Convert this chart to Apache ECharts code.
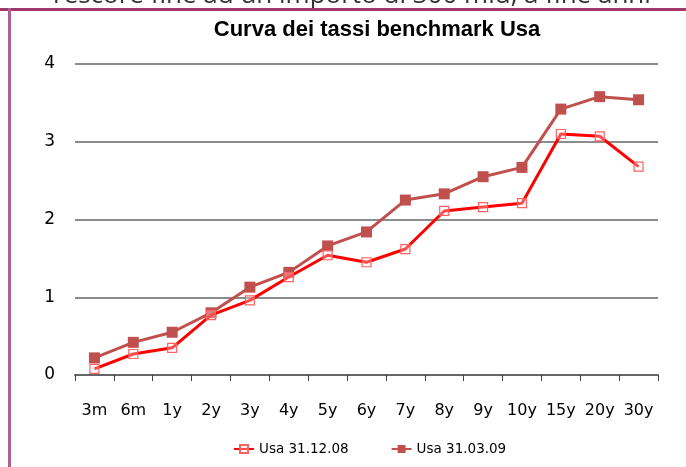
<!DOCTYPE html>
<html><head><meta charset="utf-8">
<script src="https://cdn.jsdelivr.net/npm/echarts@6/dist/echarts.min.js"></script>
<style>html,body{margin:0;padding:0;background:#fff}#c{width:686px;height:467px}</style>
</head><body><div id="c"></div>
<script>
var categories = ['3m','6m','1y','2y','3y','4y','5y','6y','7y','8y','9y','10y','15y','20y','30y'];
var usaDic08 = [0.08,0.27,0.35,0.77,0.96,1.26,1.54,1.45,1.62,2.11,2.16,2.21,3.10,3.07,2.68];
var usaMar09 = [0.22,0.42,0.55,0.80,1.13,1.32,1.66,1.84,2.25,2.33,2.55,2.67,3.42,3.58,3.54];
var seriesNames = ['Usa 31.12.08','Usa 31.03.09'];
var titleText = 'Curva dei tassi benchmark Usa';
var topText = 'rescore fine ad un importo di 300 mld, a fine anni';

var chart = echarts.init(document.getElementById('c'));
var font = 'DejaVu Sans';
chart.setOption({
  animation:false,
  title:{text:titleText,left:372,textAlign:'center',top:14,
    textStyle:{fontFamily:'"Liberation Sans Narrow", "Liberation Sans"',fontSize:22,fontWeight:'bold',color:'#000'}},
  grid:{left:75,right:28,top:64,bottom:92},
  legend:{bottom:6,left:228,itemGap:42,itemWidth:20,itemHeight:10,
    textStyle:{fontFamily:font,fontSize:13.5,color:'#000'},
    data:seriesNames},
  xAxis:{type:'category',data:categories,boundaryGap:true,
    axisLine:{lineStyle:{color:'#666',width:2}},
    axisTick:{show:true,length:6,lineStyle:{color:'#444',width:1}},
    axisLabel:{fontFamily:font,fontSize:16,color:'#000',margin:28,interval:0}},
  yAxis:{type:'value',min:0,max:4,interval:1,
    axisLine:{show:false},axisTick:{show:false},
    axisLabel:{fontFamily:font,fontSize:17,color:'#000',margin:20},
    splitLine:{lineStyle:{color:'#8c8c8c',width:2}}},
  series:[
    {name:seriesNames[0],type:'line',data:usaDic08,symbol:'rect',symbolSize:9,
      lineStyle:{color:'#ff0000',width:3},
      itemStyle:{color:'rgba(255,255,255,0.3)',borderColor:'#ff6060',borderWidth:1.2},z:3},
    {name:seriesNames[1],type:'line',data:usaMar09,symbol:'rect',symbolSize:11,
      lineStyle:{color:'#c0504d',width:3},
      itemStyle:{color:'#c0504d'},z:2}
  ],
  graphic:[
    {type:'text',x:53,y:-17,z:1,style:{text:topText,font:'26px "Open Sans"',fill:'#333',verticalAlign:'top'}},
    {type:'rect',z:5,shape:{x:0,y:8,width:690,height:3},style:{fill:'#a3386a'}},
    {type:'rect',z:5,shape:{x:8,y:8,width:3,height:470},style:{fill:'#b0608a'}}
  ]
});
</script></body></html>
